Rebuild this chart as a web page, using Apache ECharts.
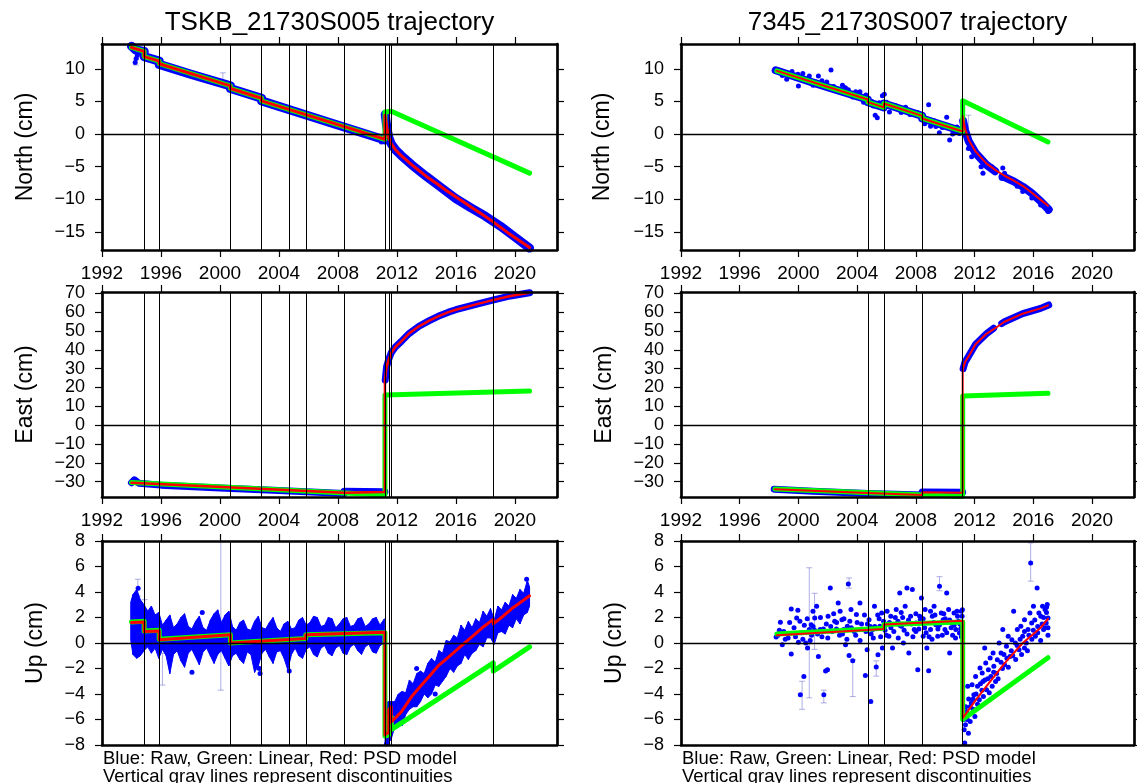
<!DOCTYPE html>
<html>
<head>
<meta charset="utf-8">
<script src="https://cdn.jsdelivr.net/npm/echarts@6/dist/echarts.min.js"></script>
<style>
  html, body { margin: 0; padding: 0; background: #fff; }
  #chart { width: 1137px; height: 783px; }
</style>
</head>
<body>
<div id="chart"></div>
<script>
// ---------- axes ----------
var yearTicks = [1992, 1996, 2000, 2004, 2008, 2012, 2016, 2020];
var northTicks = [-15, -10, -5, 0, 5, 10];
var eastTicks = [-30, -20, -10, 0, 10, 20, 30, 40, 50, 60, 70];
var upTicks = [-8, -6, -4, -2, 0, 2, 4, 6, 8];

// ---------- discontinuities ----------
var discTSKB = [1994.86, 1995.88, 2000.71, 2002.82, 2004.73, 2005.82, 2008.43, 2011.19, 2011.45, 2011.62, 2018.54];
var disc7345 = [2004.73, 2005.82, 2008.43, 2011.19];

// ---------- TSKB North ----------
var tskbNModelT = [1994.00, 1994.86, 1994.86, 1995.88, 1995.88, 2000.71, 2000.71, 2002.82, 2002.82, 2011.19, 2011.19, 2011.30, 2011.45, 2011.62, 2011.90, 2012.30, 2013.00, 2013.50, 2014.00, 2014.70, 2015.30, 2015.90, 2016.50, 2017.10, 2017.70, 2018.30, 2018.90, 2019.50, 2020.20, 2020.80, 2021.00];
var tskbNModelV = [13.3, 12.7, 11.9, 11.2, 10.8, 7.4, 7.0, 5.5, 5.1, -0.8, 2.9, 1.2, -0.6, -1.5, -2.4, -3.3, -4.7, -5.6, -6.5, -7.6, -8.6, -9.5, -10.4, -11.3, -12.2, -13.1, -14.1, -15.1, -16.2, -17.1, -17.4];
var tskbNLinT = [1994.00, 1994.86, 1994.86, 1995.88, 1995.88, 2000.71, 2000.71, 2002.82, 2002.82, 2011.19, 2011.19, 2011.62, 2011.62, 2021.00];
var tskbNLinV = [13.3, 12.7, 11.9, 11.2, 10.8, 7.4, 7.0, 5.5, 5.1, -0.8, 3.4, 3.5, 3.8, -6.0];
var tskbNRawT = [1994.00, 1994.30, 1994.86, 1994.86, 1995.88, 1995.88, 1998.00, 2000.71, 2000.71, 2002.82, 2002.82, 2006.00, 2011.19, 2011.19, 2011.21, 2011.30, 2011.45, 2011.62, 2011.90, 2012.30, 2013.00, 2014.00, 2015.00, 2016.00, 2017.00, 2018.00, 2019.00, 2020.00, 2021.00];
var tskbNRawV = [13.5, 12.9, 12.7, 11.9, 11.2, 10.7, 9.2, 7.4, 7.0, 5.5, 5.1, 2.8, -0.9, null, 3.0, 1.3, -0.5, -1.5, -2.4, -3.3, -4.7, -6.5, -8.2, -9.9, -11.3, -12.6, -14.1, -15.8, -17.5];
var tskbNDots = [[1994.25, 11.0], [1994.32, 11.6], [1994.40, 12.1], [2000.20, 7.9], [2010.60, -0.7], [2010.95, -1.2]];
var tskbNErr = [[1994.30, 10.6, 11.5], [2000.20, 7.8, 9.4]];

// ---------- 7345 North ----------
var n7345ModelT = [1998.53, 2004.73, 2004.73, 2005.82, 2005.82, 2008.43, 2008.43, 2011.19, 2011.19, 2011.35, 2011.60, 2012.07, 2012.80, 2013.40, 2014.04, 2014.70, 2015.30, 2015.90, 2016.50, 2017.00];
var n7345ModelV = [9.7, 5.3, 4.9, 4.1, 4.7, 2.8, 2.4, 0.4, 2.8, 0.8, -0.9, -2.7, -4.5, -5.5, -6.4, -7.2, -8.0, -9.0, -10.1, -11.0];
var n7345LinT = [1998.53, 2004.73, 2004.73, 2005.82, 2005.82, 2008.43, 2008.43, 2011.19, 2011.19, 2017.00];
var n7345LinV = [9.7, 5.3, 4.9, 4.1, 4.7, 2.8, 2.4, 0.4, 5.1, -1.2];
var n7345RawT = [1998.45, 2001.00, 2004.73, 2004.73, 2005.82, 2005.82, 2008.43, 2008.43, 2011.19, 2011.19, 2011.22, 2011.35, 2011.60, 2012.07, 2012.80, 2013.40, 2013.60, 2013.90, 2014.04, 2014.70, 2015.30, 2015.90, 2016.50, 2017.05];
var n7345RawV = [9.8, 7.9, 5.3, 4.9, 4.1, 4.7, 2.8, 2.4, 0.4, null, 2.0, 0.6, -1.1, -2.9, -4.7, -5.7, null, -6.6, -6.6, -7.3, -8.1, -9.1, -10.3, -11.6];
var n7345Dots = [[1998.77, 9.6], [1999.56, 9.6], [2000.00, 7.4], [1999.96, 9.2], [2000.74, 8.9], [2001.36, 8.9], [2002.22, 9.85], [2001.93, 8.0], [2003.20, 7.1], [2004.19, 6.5], [2004.44, 4.9], [2005.23, 2.9], [2005.37, 2.5], [2005.72, 5.9], [2005.85, 6.1], [2006.66, 4.3], [2007.40, 3.5], [2008.87, 4.5], [2009.36, 1.15], [2009.60, 0.2], [2010.10, 2.6], [2010.30, -0.9], [2010.60, 0.75], [2010.97, 0.1],
  [1999.20, 8.4], [1999.80, 8.6], [2000.30, 9.3], [2001.00, 7.5], [2001.60, 8.2], [2002.60, 7.0], [2003.00, 7.5], [2003.70, 5.7], [2004.00, 6.2], [2005.00, 5.0], [2006.20, 3.4], [2006.90, 3.8], [2007.60, 3.0], [2008.10, 3.3], [2008.60, 1.6], [2009.00, 1.2], [2009.80, 1.0], [2010.50, 0.0], [2010.80, 1.1],
  [1998.90, 9.0], [1999.40, 8.9], [2000.50, 8.1], [2001.20, 8.0], [2001.80, 7.2], [2002.40, 7.3], [2002.90, 6.6], [2003.40, 6.8], [2003.90, 6.5], [2004.30, 5.6], [2004.60, 6.0], [2005.10, 4.3], [2005.50, 4.8], [2006.00, 4.9], [2006.40, 4.1], [2007.00, 3.3], [2007.30, 4.1], [2007.80, 3.4], [2008.30, 2.9], [2008.70, 2.3], [2009.20, 2.1], [2009.50, 1.5], [2010.00, 1.4], [2010.40, 0.9], [2010.70, 0.3], [2011.05, 0.7],
  [2011.58, -2.2], [2011.80, -3.5], [2012.44, -5.0], [2012.57, -6.0], [2013.18, -5.0], [2013.92, -5.2], [2014.04, -6.0], [2014.90, -8.0], [2015.28, -8.8], [2015.90, -9.8], [2016.50, -10.9], [2017.00, -11.9]];
var n7345Err = [[2011.58, -2.4, 2.9], [2012.57, -6.0, -5.0]];

// ---------- TSKB East ----------
var tskbEModelT = [1994.00, 2008.43, 2008.43, 2011.19, 2011.19, 2011.30, 2011.45, 2011.62, 2011.90, 2012.30, 2012.80, 2013.50, 2014.20, 2014.80, 2015.50, 2016.00, 2017.30, 2018.50, 2019.70, 2021.00];
var tskbEModelV = [-30.6, -35.8, -35.2, -35.4, 24.0, 31.0, 35.0, 38.5, 41.5, 44.5, 48.5, 52.5, 55.5, 57.8, 60.0, 61.3, 64.0, 66.4, 68.6, 70.3];
var tskbELinT = [1994.00, 2011.19, 2011.19, 2021.00];
var tskbELinV = [-30.4, -37.0, 16.0, 18.1];
var tskbERawT = [1994.00, 1994.20, 1994.50, 1996.00, 2000.00, 2004.00, 2008.43, 2008.43, 2011.19, 2011.19, 2011.21, 2011.30, 2011.45, 2011.62, 2011.90, 2012.30, 2012.80, 2013.50, 2014.20, 2014.80, 2015.50, 2016.00, 2017.30, 2018.50, 2019.70, 2021.00];
var tskbERawV = [-30.5, -29.0, -30.8, -31.8, -33.3, -34.7, -36.2, -35.0, -35.3, null, 24.0, 31.0, 35.0, 38.5, 41.5, 44.5, 48.5, 52.5, 55.5, 57.8, 60.0, 61.3, 64.0, 66.4, 68.6, 70.3];

// ---------- 7345 East ----------
var e7345ModelT = [1998.40, 2004.73, 2008.43, 2008.43, 2011.19, 2011.19, 2011.35, 2011.58, 2012.07, 2012.81, 2013.50, 2014.04, 2015.28, 2016.50, 2017.00];
var e7345ModelV = [-34.0, -36.0, -37.0, -35.6, -35.8, 29.5, 33.5, 36.4, 43.0, 48.5, 52.0, 54.9, 59.2, 62.0, 63.6];
var e7345LinT = [1998.40, 2011.19, 2011.19, 2017.00];
var e7345LinV = [-33.8, -37.8, 15.5, 16.9];
var e7345RawT = [1998.35, 2001.00, 2004.73, 2008.43, 2008.43, 2011.19, 2011.19, 2011.22, 2011.35, 2011.58, 2012.07, 2012.81, 2013.30, 2013.50, 2013.85, 2014.04, 2015.28, 2016.50, 2017.05];
var e7345RawV = [-34.0, -35.0, -36.2, -37.0, -35.4, -35.6, null, 30.0, 33.5, 36.5, 43.0, 48.5, 51.5, null, 54.0, 54.9, 59.2, 62.0, 63.8];

// ---------- TSKB Up ----------
var tskbUModelT = [1994.00, 1994.86, 1994.86, 1995.88, 1995.88, 2000.71, 2000.71, 2005.82, 2005.82, 2011.19, 2011.19, 2011.45, 2011.45, 2011.62, 2011.62, 2012.30, 2013.00, 2013.60, 2014.20, 2014.80, 2015.50, 2016.10, 2016.70, 2017.30, 2017.90, 2018.54, 2018.54, 2019.20, 2019.80, 2020.40, 2021.00];
var tskbUModelV = [1.6, 1.65, 0.9, 0.95, 0.25, 0.65, 0.0, 0.35, 0.65, 0.85, -7.2, -7.0, -5.2, -5.0, -6.2, -5.4, -4.2, -3.4, -2.6, -1.8, -1.1, -0.5, 0.1, 0.7, 1.3, 1.85, 1.5, 2.1, 2.7, 3.2, 3.7];
var tskbULinT = [1994.00, 1994.86, 1994.86, 1995.88, 1995.88, 2000.71, 2000.71, 2005.82, 2005.82, 2011.19, 2011.19, 2011.45, 2011.45, 2011.62, 2011.62, 2018.54, 2018.54, 2021.00];
var tskbULinV = [1.65, 1.7, 0.95, 1.0, 0.3, 0.65, 0.0, 0.35, 0.65, 0.8, -7.3, -7.2, -5.8, -5.8, -6.8, -1.56, -2.2, -0.3];
var tskbUPreT  = [1993.95, 1994.10, 1994.35, 1994.60, 1994.85, 1995.10, 1995.35, 1995.60, 1995.85, 1996.10, 1996.35, 1996.60, 1996.85, 1997.10, 1997.35, 1997.60, 1997.85, 1998.10, 1998.35, 1998.60, 1998.85, 1999.10, 1999.35, 1999.60, 1999.85, 2000.10, 2000.35, 2000.60, 2000.85, 2001.10, 2001.35, 2001.60, 2001.85, 2002.10, 2002.35, 2002.60, 2002.85, 2003.10, 2003.35, 2003.60, 2003.85, 2004.10, 2004.35, 2004.60, 2004.85, 2005.10, 2005.35, 2005.60, 2005.85, 2006.10, 2006.35, 2006.60, 2006.85, 2007.10, 2007.35, 2007.60, 2007.85, 2008.10, 2008.35, 2008.60, 2008.85, 2009.10, 2009.35, 2009.60, 2009.85, 2010.10, 2010.35, 2010.60, 2010.85, 2011.15];
var tskbUPreLo = [0.2, -0.9, -1.2, -1.0, -0.6, -0.3, -0.8, -0.4, -1.2, -0.5, -1.0, -2.4, -0.9, -0.6, -1.4, -1.9, -0.8, -0.5, -1.1, -1.7, -0.7, -0.4, -1.0, -1.6, -0.9, -0.6, -1.2, -1.8, -1.0, -0.8, -1.3, -1.6, -0.7, -0.9, -2.3, -1.8, -0.8, -0.5, -1.1, -1.6, -0.7, -0.6, -1.2, -2.1, -0.9, -0.4, -1.0, -1.2, -0.5, -0.3, -0.9, -1.1, -0.4, -0.2, -0.8, -1.0, -0.4, -0.2, -0.8, -0.9, -0.3, -0.1, -0.6, -0.9, -0.3, -0.1, -0.7, -0.8, -0.2, 0.0];
var tskbUPreHi = [3.2, 3.8, 4.2, 3.4, 3.0, 2.5, 2.9, 2.2, 2.4, 1.4, 1.8, 2.2, 1.2, 1.5, 2.0, 2.3, 1.3, 1.1, 1.7, 2.1, 1.2, 1.0, 1.8, 2.3, 2.6, 1.6, 2.2, 2.5, 1.3, 1.0, 1.6, 1.8, 1.1, 1.0, 1.7, 2.1, 1.2, 1.1, 1.6, 2.0, 1.2, 0.9, 1.5, 1.7, 1.1, 1.2, 1.8, 2.0, 1.4, 1.6, 2.1, 2.0, 1.3, 1.4, 2.0, 1.9, 1.2, 1.5, 1.9, 2.0, 1.3, 1.4, 1.9, 2.0, 1.3, 1.5, 1.9, 2.0, 1.4, 1.9];
var tskbUPostT  = [2011.20, 2011.40, 2011.60, 2011.85, 2012.10, 2012.35, 2012.60, 2012.85, 2013.10, 2013.35, 2013.60, 2013.85, 2014.10, 2014.35, 2014.60, 2014.85, 2015.10, 2015.35, 2015.60, 2015.85, 2016.10, 2016.35, 2016.60, 2016.85, 2017.10, 2017.35, 2017.60, 2017.85, 2018.10, 2018.35, 2018.60, 2018.85, 2019.10, 2019.35, 2019.60, 2019.85, 2020.10, 2020.35, 2020.60, 2020.85, 2021.00];
var tskbUPostLo = [-8.2, -7.8, -7.6, -6.6, -6.3, -6.5, -5.6, -5.2, -5.0, -5.0, -4.6, -4.0, -4.3, -4.0, -3.3, -3.4, -3.0, -2.6, -2.0, -2.3, -1.8, -1.6, -0.9, -1.3, -0.8, -0.6, -0.1, -0.3, 0.4, 0.4, -0.1, 0.8, 0.9, 0.7, 1.4, 1.2, 1.9, 1.5, 2.2, 2.4, 2.9];
var tskbUPostHi = [-4.8, -4.6, -4.6, -4.6, -4.0, -3.8, -3.9, -2.9, -3.2, -2.4, -2.2, -2.4, -1.6, -1.2, -1.5, -0.6, -0.8, 0.2, 0.1, 0.6, 0.4, 1.4, 1.0, 1.7, 1.2, 1.9, 1.6, 2.5, 2.1, 2.7, 1.8, 2.9, 2.6, 3.2, 2.9, 3.8, 3.5, 4.2, 3.9, 4.9, 4.4];
var tskbUDots = [[1994.45, 4.3], [1998.80, 2.4], [1998.10, -2.3], [2002.67, -2.0], [2002.72, -2.4], [2004.70, -2.2], [2013.34, -2.0], [2014.60, -4.0], [2011.30, -7.9], [2020.80, 5.0]];
var tskbUErr = [[1994.43, 3.7, 5.0], [1996.10, -3.3, -0.8], [2000.06, -3.7, 8.0], [1994.90, 2.6, 3.4]];

// ---------- 7345 Up ----------
var u7345ModelT = [1998.53, 2005.82, 2005.82, 2011.19, 2011.19, 2012.00, 2012.80, 2014.04, 2015.28, 2016.50, 2017.00];
var u7345ModelV = [0.6, 1.1, 1.45, 1.75, -5.9, -4.6, -3.4, -1.6, 0.0, 1.2, 1.9];
var u7345LinT = [1998.53, 2005.82, 2005.82, 2011.19, 2011.19, 2017.00];
var u7345LinV = [0.7, 1.15, 1.45, 1.65, -6.0, -1.15];
var u7345Dots = [[1998.48, 0.47], [1998.77, 1.62], [1998.90, -0.13], [1999.51, -0.86], [1999.51, 2.67], [1999.96, 2.57], [1999.88, 1.96], [2000.00, 0.05], [2000.13, -4.06], [2000.37, -2.62], [2000.50, 0.0], [2000.74, 1.05], [2000.62, -0.39], [2000.87, 1.44], [2000.99, 2.49], [2001.11, 1.96], [2001.24, 2.88], [2001.36, -1.05], [2001.48, 1.05], [2001.73, -4.06], [2001.85, -2.2], [2001.98, -2.09], [2002.02, 2.09], [2002.17, 4.32], [2002.47, 1.7], [2002.59, 1.1], [2002.71, 3.14], [2002.84, 2.49], [2002.96, 1.83], [2003.08, 1.05], [2003.21, -0.13], [2003.33, 1.31], [2003.40, 4.63], [2003.45, -0.99], [2003.58, 2.62], [2003.70, -1.39], [2003.95, 2.23], [2004.19, 3.14], [2004.44, 1.05], [2004.56, -2.54], [2004.68, -0.52], [2004.81, 1.83], [2004.93, -4.58], [2005.05, 1.05], [2005.18, 2.88], [2005.30, -1.88], [2005.42, -0.92], [2005.55, 1.31], [2005.67, 2.36], [2005.72, -0.39], [2005.87, 1.31], [2006.04, 2.49], [2006.16, 0.52], [2006.29, 2.09], [2006.41, -0.39], [2006.66, 2.62], [2006.78, 1.7], [2006.90, 3.93], [2007.02, 1.31], [2007.15, 0.0], [2007.27, 2.88], [2007.39, 4.32], [2007.52, -0.79], [2007.64, 2.09], [2007.76, 4.19], [2007.89, 1.05], [2008.01, 1.57], [2008.13, -2.09], [2008.26, 2.09], [2008.38, 3.53], [2008.50, 0.52], [2008.63, 2.62], [2008.75, -0.39], [2008.87, -2.17], [2009.00, 1.05], [2009.12, 2.09], [2009.24, 2.88], [2009.36, 1.44], [2009.49, 0.52], [2009.61, 4.45], [2009.73, 2.36], [2009.86, 1.83], [2009.98, 1.05], [2010.10, 3.93], [2010.23, 2.62], [2010.30, -0.79], [2010.47, 1.57], [2010.60, 2.36], [2010.72, 1.05], [2010.84, 2.09], [2010.97, 0.79], [2011.09, 2.49], [2011.14, 1.31],
  [1998.60, 0.6], [1999.00, 0.9], [1999.30, 0.4], [1999.70, 1.2], [2000.20, 0.8], [2000.40, 1.4], [2000.90, 0.6], [2001.10, 1.0], [2001.60, 0.5], [2001.90, 1.5], [2002.30, 0.9], [2002.60, 1.6], [2003.00, 0.7], [2003.60, 1.2], [2003.90, 0.6], [2004.30, 1.5], [2004.60, 0.9], [2004.90, 1.3], [2005.10, 0.4], [2005.50, 1.9], [2005.90, 1.0], [2006.20, 1.6], [2006.50, 0.9], [2006.90, 1.4], [2007.10, 2.0], [2007.40, 0.7], [2007.70, 1.5], [2008.00, 0.9], [2008.30, 1.8], [2008.60, 1.2], [2008.90, 0.5], [2009.20, 1.6], [2009.50, 1.1], [2009.80, 0.6], [2010.00, 1.9], [2010.40, 1.2], [2010.70, 0.4], [2010.90, 1.7], [2011.05, 1.1], [2011.17, 2.6],
  [1998.70, 1.0], [1999.10, 0.3], [1999.40, 1.6], [1999.80, 0.5], [2000.10, 1.7], [2000.30, 0.3], [2000.60, 1.9], [2000.80, 0.2], [2001.00, 1.3], [2001.30, 0.7], [2001.50, 2.0], [2001.70, 1.1], [2002.00, 0.4], [2002.20, 1.3], [2002.40, 2.3], [2002.80, 0.6], [2003.10, 1.9], [2003.30, 0.3], [2003.50, 1.7], [2003.80, 0.9], [2004.00, 1.6], [2004.20, 0.2], [2004.50, 2.2], [2004.70, 1.5], [2004.95, 0.7], [2005.20, 1.3], [2005.40, 2.2], [2005.60, 0.5], [2005.80, 1.7], [2006.00, 0.6], [2006.30, 1.2], [2006.60, 2.0], [2006.80, 0.4], [2007.00, 2.4], [2007.20, 1.0], [2007.50, 1.8], [2007.80, 0.5], [2008.00, 2.3], [2008.20, 1.1], [2008.50, 1.9], [2008.70, 0.8], [2009.00, 2.5], [2009.10, 0.3], [2009.30, 2.2], [2009.60, 1.4], [2009.90, 2.3], [2010.10, 0.8], [2010.30, 1.8], [2010.50, 0.6], [2010.60, 1.4], [2010.80, 2.5], [2011.00, 1.5], [2011.10, 0.5], [2011.15, 2.1],
  [2011.29, -6.81], [2011.33, -7.85], [2011.38, -6.41], [2011.46, -5.37], [2011.53, -3.4], [2011.58, -7.07], [2011.70, -6.15], [2011.78, -4.71], [2011.83, -3.27], [2011.95, -4.06], [2012.02, -5.76], [2012.07, -2.62], [2012.20, -3.4], [2012.32, -4.45], [2012.37, -1.96], [2012.52, -2.36], [2012.57, -3.01], [2012.69, -0.39], [2012.76, -1.57], [2012.81, -3.66], [2012.94, -2.09], [2013.06, -1.18], [2013.11, -2.62], [2013.26, -0.79], [2013.31, -1.83], [2013.43, -3.01], [2013.55, -1.31], [2013.67, 0.0], [2013.80, -0.79], [2013.92, 1.05], [2014.04, -1.7], [2014.17, -0.26], [2014.29, 0.52], [2014.41, -1.05], [2014.54, 0.26], [2014.66, 2.49], [2014.78, 0.0], [2014.91, 1.05], [2015.03, -0.52], [2015.15, 1.31], [2015.28, 0.52], [2015.40, 1.83], [2015.52, 0.0], [2015.64, 1.05], [2015.77, 2.36], [2015.82, 6.28], [2015.89, 1.57], [2016.01, 2.88], [2016.14, 0.52], [2016.26, 4.32], [2016.38, 2.36], [2016.51, 2.09], [2016.63, 2.88], [2016.70, 1.05], [2016.80, 2.62], [2016.88, 1.57], [2016.95, 3.01], [2017.00, 1.96],
  [2011.25, -6.0], [2011.40, -5.0], [2011.60, -4.4], [2011.90, -5.2], [2012.10, -4.0], [2012.40, -3.2], [2012.60, -4.2], [2012.90, -2.8], [2013.20, -3.4], [2013.50, -2.4], [2013.90, -2.0], [2014.20, -1.2], [2014.50, -0.6], [2014.80, -1.3], [2015.10, 0.3], [2015.40, -0.4], [2015.70, 0.6], [2016.00, 1.0], [2016.30, 0.8], [2016.60, 1.5], [2016.90, 2.4], [2017.00, 0.6],
  [2011.30, -5.5], [2011.50, -6.0], [2011.70, -5.0], [2011.90, -4.4], [2012.20, -4.8], [2012.50, -3.7], [2012.70, -2.9], [2013.00, -3.9], [2013.30, -2.3], [2013.60, -2.8], [2013.80, -1.5], [2014.00, -0.9], [2014.30, -1.9], [2014.60, -1.0], [2014.90, -0.2], [2015.20, -0.9], [2015.40, 0.9], [2015.60, -0.6], [2015.90, 0.3], [2016.10, 1.8], [2016.30, 1.3], [2016.50, 0.2], [2016.70, 2.0], [2016.80, 1.2], [2016.90, 2.8], [2017.00, 1.2]];
var u7345Err = [[2000.25, -5.2, -3.0], [2000.74, -4.3, 5.9], [2001.10, -0.5, 3.9], [2001.73, -4.7, -3.7], [2003.70, -4.2, -1.3], [2003.45, 4.3, 5.1], [2005.30, -2.6, -1.4], [2009.61, 4.1, 5.2], [2015.82, 4.85, 7.85]];

// ---------- layout ----------
var FONT = '"Liberation Sans", Arial, Helvetica, sans-serif';
var xMax = 2022.86;
var colLeft = [102, 681], colWidth = [455, 453];
var rowTop = [44, 292, 541], rowHeight = [206, 205, 204];
var yRanges = [[-17.8, 13.83], [-38.1, 70.7], [-8, 8]];
var yTickSets = [northTicks, eastTicks, upTicks];
var yNames = ['North (cm)', 'East (cm)', 'Up (cm)'];
var nameGaps = [[65, 65, 55], [67, 65, 55]];

function xy(t, v) { return t.map(function (x, i) { return [x, v[i]]; }); }
function minus(v) { return String(v).replace('-', '\u2212'); }
function plain(v) { return String(v); }

function lineS(gi, t, v, color, width, z) {
  return { type: 'line', xAxisIndex: gi * 2, yAxisIndex: gi * 2, data: xy(t, v), showSymbol: false, symbol: 'none',
    connectNulls: false, clip: true, silent: true, z: z,
    lineStyle: { color: color, width: width, cap: 'round', join: 'round' } };
}
function dotS(gi, pts, size) {
  return { type: 'scatter', xAxisIndex: gi * 2, yAxisIndex: gi * 2, data: pts, symbolSize: size, clip: true,
    silent: true, z: 2, itemStyle: { color: '#0000ff', opacity: 1 } };
}
function bandS(gi, t, lo, hi) {
  var segs = [];
  for (var i = 0; i < t.length - 1; i++) segs.push([t[i], lo[i], hi[i], t[i + 1], lo[i + 1], hi[i + 1]]);
  return { type: 'custom', xAxisIndex: gi * 2, yAxisIndex: gi * 2, data: segs, clip: true, silent: true, z: 2,
    encode: { x: [0, 3], y: [1, 2, 4, 5] },
    renderItem: function (p, api) {
      var a = api.coord([api.value(0), api.value(1)]), b = api.coord([api.value(3), api.value(4)]);
      var c = api.coord([api.value(3), api.value(5)]), d = api.coord([api.value(0), api.value(2)]);
      return { type: 'polygon', shape: { points: [a, b, c, d] }, style: { fill: '#0000ff', stroke: '#0000ff', lineWidth: 1 } };
    } };
}
function errS(gi, bars) {
  return { type: 'custom', xAxisIndex: gi * 2, yAxisIndex: gi * 2, data: bars, clip: true, silent: true, z: 1,
    encode: { x: 0, y: [1, 2] },
    renderItem: function (p, api) {
      var a = api.coord([api.value(0), api.value(1)]), b = api.coord([api.value(0), api.value(2)]);
      var st = { stroke: 'rgba(110,110,210,0.55)', lineWidth: 1 };
      return { type: 'group', children: [
        { type: 'line', shape: { x1: a[0], y1: a[1], x2: b[0], y2: b[1] }, style: st },
        { type: 'line', shape: { x1: a[0] - 3, y1: a[1], x2: a[0] + 3, y2: a[1] }, style: st },
        { type: 'line', shape: { x1: b[0] - 3, y1: b[1], x2: b[0] + 3, y2: b[1] }, style: st }
      ] };
    } };
}
function withMarks(s, discs) {
  s.markLine = { silent: true, symbol: ['none', 'none'], animation: false, label: { show: false },
    lineStyle: { color: '#000', width: 1, type: 'solid' }, emphasis: { disabled: true },
    data: discs.map(function (t) { return { xAxis: t }; }).concat([{ yAxis: 0, lineStyle: { color: '#000', width: 1.3, type: 'solid' } }]) };
  return s;
}

var grids = [], xAxes = [], yAxes = [], series = [];
for (var gi = 0; gi < 6; gi++) {
  var col = gi % 2, row = Math.floor(gi / 2);
  grids.push({ left: colLeft[col], top: rowTop[row], width: colWidth[col], height: rowHeight[row], show: false });
  var frame = { show: true, onZero: false, lineStyle: { color: '#000', width: 2.7 } };
  var tickX = { show: true, customValues: yearTicks, length: 7, lineStyle: { color: '#000', width: 1.2 } };
  var tickY = { show: true, customValues: yTickSets[row], length: 7, lineStyle: { color: '#000', width: 1.2 } };
  xAxes.push({ gridIndex: gi, type: 'value', position: 'bottom', min: 1992, max: xMax, z: 10, axisLine: frame,
    splitLine: { show: false }, axisTick: row < 2 ? tickX : { show: false },
    axisLabel: { show: row < 2, customValues: yearTicks, fontSize: 19, fontFamily: FONT, color: '#000', margin: 14, formatter: plain } });
  xAxes.push({ gridIndex: gi, type: 'value', position: 'top', min: 1992, max: xMax, z: 10, axisLine: frame,
    splitLine: { show: false }, axisTick: tickX, axisLabel: { show: false } });
  yAxes.push({ gridIndex: gi, type: 'value', position: 'left', min: yRanges[row][0], max: yRanges[row][1], z: 10,
    axisLine: frame, splitLine: { show: false }, axisTick: tickY,
    axisLabel: { customValues: yTickSets[row], fontSize: 18, fontFamily: FONT, color: '#000', margin: 17, formatter: minus },
    name: yNames[row], nameLocation: 'middle', nameGap: nameGaps[col][row], nameRotate: 90,
    nameTextStyle: { fontSize: 23, fontFamily: FONT, color: '#000' } });
  yAxes.push({ gridIndex: gi, type: 'value', position: 'right', min: yRanges[row][0], max: yRanges[row][1], z: 10,
    axisLine: frame, splitLine: { show: false }, axisTick: tickY, axisLabel: { show: false } });
}

// TSKB North (0)
series.push(errS(0, tskbNErr), lineS(0, tskbNRawT, tskbNRawV, '#0000ff', 9, 2), dotS(0, tskbNDots, 5),
  lineS(0, tskbNLinT, tskbNLinV, '#00ff00', 5, 3), withMarks(lineS(0, tskbNModelT, tskbNModelV, '#ff0000', 3, 4), discTSKB));
// 7345 North (1)
series.push(errS(1, n7345Err), lineS(1, n7345RawT, n7345RawV, '#0000ff', 8, 2), dotS(1, n7345Dots, 5),
  lineS(1, n7345LinT, n7345LinV, '#00ff00', 5, 3), withMarks(lineS(1, n7345ModelT, n7345ModelV, '#ff0000', 2, 4), disc7345));
// TSKB East (2)
series.push(lineS(2, tskbERawT, tskbERawV, '#0000ff', 7, 2),
  lineS(2, tskbELinT, tskbELinV, '#00ff00', 5, 3), withMarks(lineS(2, tskbEModelT, tskbEModelV, '#ff0000', 2.5, 4), discTSKB));
// 7345 East (3)
series.push(lineS(3, e7345RawT, e7345RawV, '#0000ff', 7, 2),
  lineS(3, e7345LinT, e7345LinV, '#00ff00', 5, 3), withMarks(lineS(3, e7345ModelT, e7345ModelV, '#ff0000', 2, 4), disc7345));
// TSKB Up (4)
series.push(errS(4, tskbUErr), bandS(4, tskbUPreT, tskbUPreLo, tskbUPreHi), bandS(4, tskbUPostT, tskbUPostLo, tskbUPostHi),
  dotS(4, tskbUDots, 5), lineS(4, tskbULinT, tskbULinV, '#00ff00', 5, 3),
  withMarks(lineS(4, tskbUModelT, tskbUModelV, '#ff0000', 3, 4), discTSKB));
// 7345 Up (5)
series.push(errS(5, u7345Err), dotS(5, u7345Dots, 5), lineS(5, u7345LinT, u7345LinV, '#00ff00', 5, 3),
  withMarks(lineS(5, u7345ModelT, u7345ModelV, '#ff0000', 2, 4), disc7345));

function txt(x, y, s, size, align) {
  return { type: 'text', x: x, y: y, z: 20, silent: true,
    style: { text: s, fontSize: size, fontFamily: FONT, fill: '#000', textAlign: align, textVerticalAlign: 'middle' } };
}

var chart = echarts.init(document.getElementById('chart'), null, { renderer: 'canvas' });
chart.setOption({
  animation: false,
  backgroundColor: '#fff',
  grid: grids,
  xAxis: xAxes,
  yAxis: yAxes,
  series: series,
  graphic: [
    txt(329.5, 23, 'TSKB_21730S005 trajectory', 26, 'center'),
    txt(907.5, 23, '7345_21730S007 trajectory', 26, 'center'),
    txt(103, 758.5, 'Blue: Raw, Green: Linear, Red: PSD model', 18.5, 'left'),
    txt(103, 776.5, 'Vertical gray lines represent discontinuities', 18.5, 'left'),
    txt(682, 758.5, 'Blue: Raw, Green: Linear, Red: PSD model', 18.5, 'left'),
    txt(682, 776.5, 'Vertical gray lines represent discontinuities', 18.5, 'left')
  ]
});
</script>
</body>
</html>
